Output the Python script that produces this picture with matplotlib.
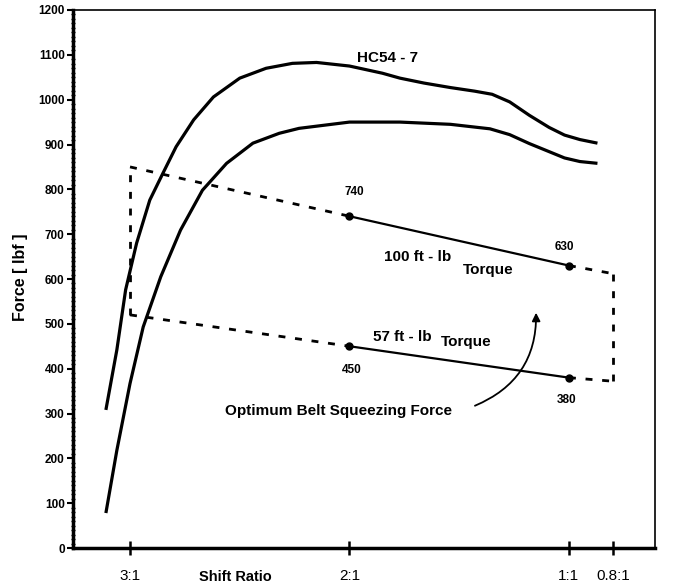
import matplotlib
matplotlib.use("Agg")
import matplotlib.pyplot as plt
from matplotlib.ticker import MultipleLocator
import matplotlib.transforms as mtransforms

plt.rcParams['font.family'] = ['Liberation Sans', 'DejaVu Sans']

# belt force curves (shift ratio, force lbf)
upper_ratio = [3.11, 3.06, 3.02, 2.97, 2.91, 2.85, 2.79, 2.71, 2.62, 2.50, 2.38, 2.26,
               2.15, 2.00, 1.85, 1.77, 1.66, 1.54, 1.43, 1.35, 1.27, 1.18, 1.09, 1.02,
               0.95, 0.87]
upper_force = [308, 442, 576, 680, 776, 836, 895, 955, 1006, 1048, 1070, 1081,
               1083, 1075, 1059, 1048, 1037, 1027, 1019, 1012, 995, 965, 938, 921,
               911, 903]
lower_ratio = [3.11, 3.06, 3.00, 2.94, 2.86, 2.77, 2.67, 2.56, 2.44, 2.32, 2.23, 2.00,
               1.77, 1.54, 1.36, 1.27, 1.18, 1.09, 1.02, 0.95, 0.87]
lower_force = [78, 218, 367, 493, 605, 709, 798, 858, 903, 925, 936, 950,
               950, 945, 935, 922, 902, 884, 870, 862, 858]

# torque lines: 3:1, 2:1, 1:1, 0.8:1
torque_ratio = [3.0, 2.0, 1.0, 0.8]
torque100 = [850, 740, 630, 612]
torque57 = [520, 450, 380, 372]

xtick_pos = [3.0, 2.0, 1.0, 0.8]
xtick_lab = ["3:1", "2:1", "1:1", "0.8:1"]

fig = plt.figure(figsize=(6.75, 5.88), dpi=100)
ax = fig.add_axes([0.1081, 0.068, 0.8622, 0.915])

ax.plot(upper_ratio, upper_force, color="black", lw=2.3, solid_capstyle="butt",
        solid_joinstyle="round")
ax.plot(lower_ratio, lower_force, color="black", lw=2.3, solid_capstyle="butt",
        solid_joinstyle="round")

dash = (0, (2.5, 3.5))
for f in (torque100, torque57):
    ax.plot(torque_ratio[0:2], f[0:2], color="black", lw=2, linestyle=dash)
    ax.plot(torque_ratio[2:4], f[2:4], color="black", lw=2, linestyle=dash)
    ax.plot(torque_ratio[1:3], f[1:3], color="black", lw=1.6, marker="o", ms=5)
ax.plot([torque_ratio[0]] * 2, [torque57[0], torque100[0]], color="black", lw=2, linestyle=dash)
ax.plot([torque_ratio[3]] * 2, [torque57[3], torque100[3]], color="black", lw=2, linestyle=dash)

bold = dict(fontweight="bold", ha="center", va="center")
ax.text(1.98, 794, "740", fontsize=8.5, **bold)
ax.text(1.02, 671, "630", fontsize=8.5, **bold)
ax.text(1.99, 397, "450", fontsize=8.5, **bold)
ax.text(1.01, 330, "380", fontsize=8.5, **bold)
ax.text(1.825, 1093, "HC54 - 7", fontsize=11, **bold)
ax.text(1.69, 649, "100 ft - lb", fontsize=11, **bold)
ax.text(1.37, 620, "Torque", fontsize=11, **bold)
ax.text(1.76, 471, "57 ft - lb", fontsize=11, **bold)
ax.text(1.47, 460, "Torque", fontsize=11, **bold)
ax.text(2.05, 306, "Optimum Belt Squeezing Force", fontsize=11, **bold)
ax.annotate("", xy=(1.15, 531), xytext=(1.44, 315),
            arrowprops=dict(arrowstyle="-|>", color="black", lw=1.3,
                            mutation_scale=12,
                            connectionstyle="arc3,rad=0.35"))

ax.set_xlim(3.26, 0.608)
ax.set_ylim(0, 1200)
ax.set_xticks(xtick_pos)
ax.set_xticklabels(xtick_lab, fontsize=11)
ax.yaxis.set_major_locator(MultipleLocator(100))
ax.yaxis.set_minor_locator(MultipleLocator(10))
for lab in ax.get_yticklabels():
    lab.set_fontweight("bold")
ax.tick_params(axis="y", which="major", direction="out", length=4, width=1.5,
               labelsize=8.5, pad=2)
ax.tick_params(axis="y", which="minor", direction="inout", length=3, width=1)
ax.tick_params(axis="x", which="major", direction="inout", length=10, width=1.8, pad=10)

ax.spines["left"].set_linewidth(2.5)
ax.spines["bottom"].set_linewidth(2.5)
ax.spines["top"].set_linewidth(1.2)
ax.spines["right"].set_linewidth(1.2)

trans = mtransforms.blended_transform_factory(ax.transData, fig.transFigure)
ax.text(2.52, 1 - 577 / 588, "Shift Ratio", transform=trans, fontsize=10.5,
        fontweight="bold", ha="center", va="center")
fig.text(0.03, 1 - 277 / 588, "Force [ lbf ]", rotation=90, fontsize=11.5,
         fontweight="bold", ha="center", va="center")

fig.savefig("out.png", dpi=100, facecolor="white")
